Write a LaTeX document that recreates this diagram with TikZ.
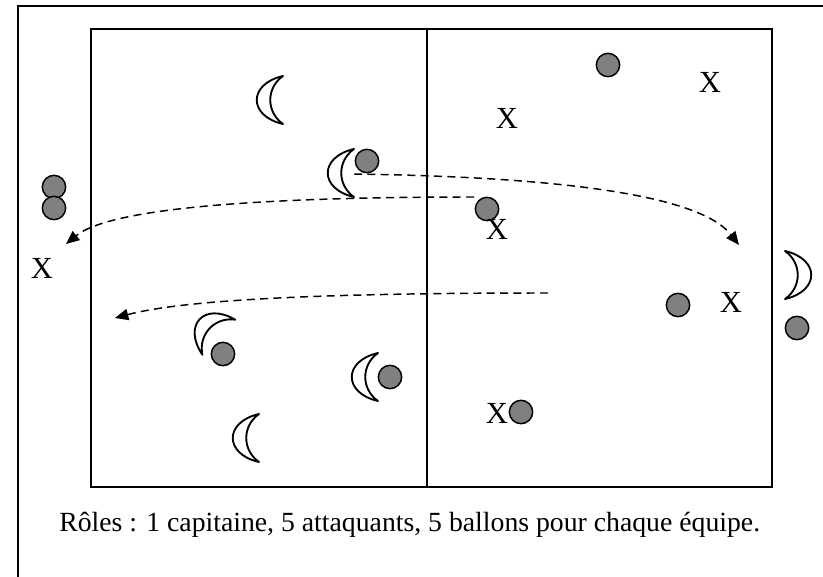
\documentclass[tikz,border=0pt]{standalone}
\usepackage{fontspec}
\setmainfont{Liberation Serif}
\usetikzlibrary{arrows.meta}
\definecolor{ballgray}{RGB}{128,128,128}
\tikzset{
  frameline/.style={draw=black,line width=1.1pt},
  ball/.style={circle,draw=black,fill=ballgray,line width=1.1pt,minimum size=17.5pt,inner sep=0pt},
  xmark/.style={font=\fontsize{23}{27}\selectfont,inner sep=0pt},
  moonline/.style={draw=black,fill=white,line width=1.4pt,line join=round},
  pass/.style={draw=black,line width=1.1pt,dash pattern=on 6pt off 4pt,-{Triangle[length=10pt,width=8.5pt]}},
  moon/.pic={\path[moonline] (12,-24) .. controls (-23,-16) and (-23,16) .. (12,24) .. controls (-5,12) and (-5,-12) .. cycle;}
}
\begin{document}
\begin{tikzpicture}[x=0.75pt,y=-0.75pt]
\useasboundingbox (0,0) rectangle (823,577);
% frames (right and bottom edges lie at the page border)
\draw[frameline] (18,6) rectangle (825,580);
\draw[frameline] (91,29) rectangle (772,487);
\coordinate (midtop) at (427,29);
\coordinate (midbot) at (427,487);
\draw[frameline] (midtop) -- (midbot);
% moons
\pic at (271,100) {moon};
\pic at (342,173) {moon};
\pic[rotate=-43] at (210,329) {moon};
\pic at (366,377) {moon};
\pic at (247,438) {moon};
\pic[rotate=180] at (797,275) {moon};
% balls
\node[ball] (b1) at (608,65) {};
\node[ball] (b2) at (367,161) {};
\node[ball] (b3) at (487,209) {};
\node[ball] (b4) at (54,187) {};
\node[ball] (b5) at (54,208) {};
\node[ball] (b6) at (678,305) {};
\node[ball] (b7) at (797,328) {};
\node[ball] (b8) at (223,354) {};
\node[ball] (b9) at (390,377) {};
\node[ball] (b10) at (521,412) {};
% X players
\node[xmark] (x1) at (710,82) {X};
\node[xmark] (x2) at (507,118) {X};
\node[xmark] (x3) at (497,229) {X};
\node[xmark] (x4) at (42,268) {X};
\node[xmark] (x5) at (731,302) {X};
\node[xmark] (x6) at (497,413) {X};
% passes
\coordinate (p1s) at (354,174);
\coordinate (p1e) at (739,245);
\coordinate (p2s) at (474,197);
\coordinate (p2e) at (66,244);
\coordinate (p3s) at (548,293);
\coordinate (p3e) at (115,318);
\draw[pass] (p1s) .. controls (560,177) and (700,195) .. (p1e);
\draw[pass] (p2s) .. controls (260,197) and (110,208) .. (p2e);
\draw[pass] (p3s) .. controls (350,293) and (190,298) .. (p3e);
% caption
\node[anchor=base west,inner sep=0pt,font=\fontsize{20.8}{25}\selectfont] (cap) at (59,531) {Rôles : 1 capitaine, 5 attaquants, 5 ballons pour chaque équipe.};
\end{tikzpicture}
\end{document}
